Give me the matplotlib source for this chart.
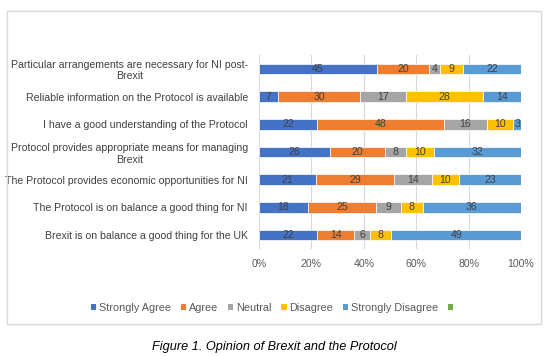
import matplotlib
matplotlib.use("Agg")
import matplotlib.pyplot as plt
from matplotlib.patches import Patch, Rectangle
import numpy as np

plt.rcParams['font.family'] = ['Liberation Sans', 'DejaVu Sans']

categories = [
    "Particular arrangements are necessary for NI post-\nBrexit",
    "Reliable information on the Protocol is available",
    "I have a good understanding of the Protocol",
    "Protocol provides appropriate means for managing\nBrexit",
    "The Protocol provides economic opportunities for NI",
    "The Protocol is on balance a good thing for NI",
    "Brexit is on balance a good thing for the UK",
]
series_names = ["Strongly Agree", "Agree", "Neutral", "Disagree", "Strongly Disagree", ""]
strongly_agree = [45, 7, 22, 26, 21, 18, 22]
agree = [20, 30, 48, 20, 29, 25, 14]
neutral = [4, 17, 16, 8, 14, 9, 6]
disagree = [9, 28, 10, 10, 10, 8, 8]
strongly_disagree = [22, 14, 3, 32, 23, 36, 49]
blank = [0, 0, 0, 0, 0, 0, 0]
colors = ["#4472C4", "#ED7D31", "#A5A5A5", "#FFC000", "#5B9BD5", "#70AD47"]
xticks = [0, 20, 40, 60, 80, 100]
caption = "Figure 1. Opinion of Brexit and the Protocol"

W, H = 558, 356
fig = plt.figure(figsize=(W / 100, H / 100), dpi=100)

# chart border
fig.patches.append(Rectangle((7 / W, 1 - 324 / H), (541 - 7) / W, (324 - 11) / H,
                             transform=fig.transFigure, fill=False,
                             edgecolor="#D9D9D9", linewidth=1.0))

ax = fig.add_axes([259 / W, 1 - 249 / H, 262 / W, 194 / H])

fs = 7.6
data = np.array([strongly_agree, agree, neutral, disagree, strongly_disagree, blank], dtype=float)
totals = data.sum(axis=0)
pct = data / totals * 100
y = np.arange(len(categories))
left = np.zeros(len(categories))
for i in range(data.shape[0]):
    ax.barh(y, pct[i], left=left, height=0.385, color=colors[i],
            edgecolor="white", linewidth=0.5, zorder=3)
    for j in range(len(categories)):
        if data[i, j] > 0:
            ax.text(left[j] + pct[i, j] / 2, y[j], f"{int(data[i, j])}",
                    ha="center", va="center", fontsize=fs, color="#404040", zorder=4)
    left += pct[i]

ax.set_xlim(0, 100)
ax.set_ylim(-0.5, len(categories) - 0.5)
ax.invert_yaxis()
ax.set_yticks(y)
ax.set_yticklabels(categories, fontsize=fs, color="#404040", multialignment="center")
ax.set_xticks(xticks)
ax.set_xticklabels([f"{t}%" for t in xticks], fontsize=fs, color="#595959")
ax.tick_params(axis="y", length=0, pad=8)
ax.tick_params(axis="x", length=0, pad=7)
ax.grid(axis="x", color="#D9D9D9", linewidth=0.8, zorder=0)
for s in ax.spines.values():
    s.set_visible(False)

handles = [Patch(facecolor=c, edgecolor="none") for c in colors]
labels = series_names[:5] + [" "]
fig.legend(handles, labels, loc="center", bbox_to_anchor=(275 / W, 1 - 308 / H),
           ncol=6, frameon=False, fontsize=7.8, handlelength=0.5, handleheight=0.5,
           handletextpad=0.25, columnspacing=0.9, labelcolor="#595959")

fig.text(274 / W, 1 - 347 / H, caption, ha="center", va="center",
         fontsize=9.2, style="italic", color="#000000")

fig.savefig("out.png", dpi=100)
